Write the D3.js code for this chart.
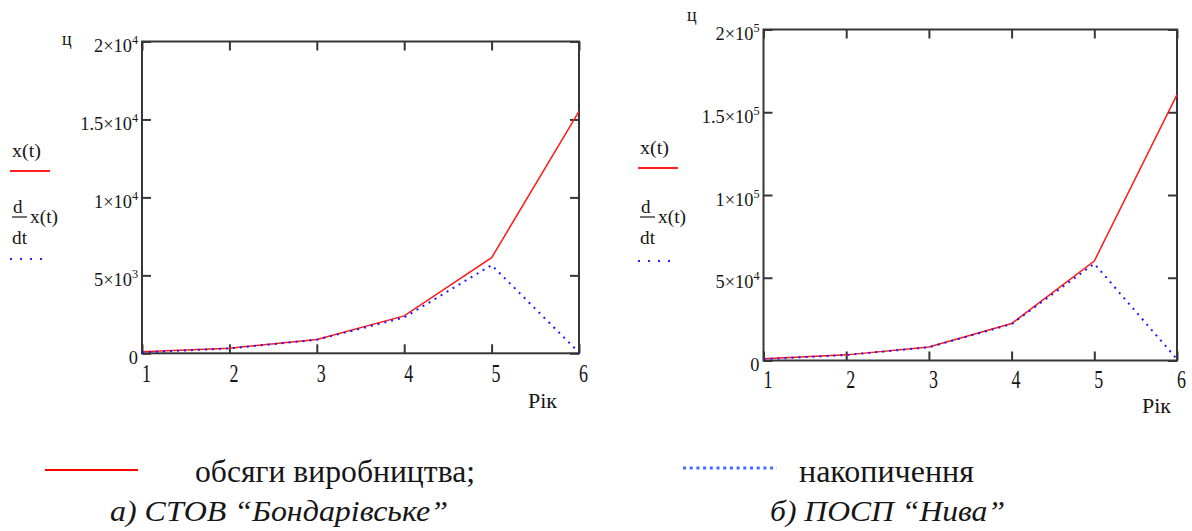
<!DOCTYPE html>
<html>
<head>
<meta charset="utf-8">
<script src="https://cdn.jsdelivr.net/npm/d3@7"></script>
<style>
  body { margin: 0; background: #fff; }
  svg { display: block; }
  svg text { font-family: "Liberation Serif", "Times New Roman", "DejaVu Serif", serif; }
</style>
</head>
<body>
<svg width="1192" height="531"></svg>
<script>
// years on the x axis
const years = [1, 2, 3, 4, 5, 6];

// СТОВ "Бондарівське": x(t) and d/dt x(t)
const bondOutput = [100, 320, 890, 2400, 6130, 15520];
const bondAccum = [60, 310, 870, 2300, 5660, 50];
const bondTicks = [0, 5000, 10000, 15000, 20000];

// ПОСП "Нива"
const nivaOutput = [1000, 3400, 8200, 22300, 60100, 160700];
const nivaAccum = [800, 3300, 8000, 22000, 58500, 800];
const nivaTicks = [0, 50000, 100000, 150000, 200000];

const legendLabels = ["обсяги виробництва;", "накопичення"];
const captions = ["а) СТОВ “Бондарівське”", "б) ПОСП “Нива”"];

const svg = d3.select("svg");
const axisColor = "#363636";
const textColor = "#161616";

// 15000 -> ["1.5×10", "4"]
const sci = v => {
  if (v === 0) return ["0", ""];
  const e = Math.floor(Math.log10(v));
  const m = v / Math.pow(10, e);
  return [d3.format("~g")(m) + "×10", String(e)];
};

const drawPanel = p => {
  const xScale = d3.scaleLinear().domain([1, 6]).range([p.left, p.right]);
  const yScale = d3.scaleLinear().domain([0, p.yMax]).range([p.bottom, p.top]);
  const g = svg.append("g");

  const styleTicks = sel => {
    sel.attr("font-family", null);
    sel.select(".domain").remove();
    sel.selectAll(".tick line").attr("stroke", axisColor).attr("stroke-width", 2);
  };

  // bottom axis with labels
  const xAxisG = g.append("g")
    .attr("transform", `translate(0,${p.bottom})`)
    .call(d3.axisBottom(xScale).tickValues(years).tickSize(-9).tickSizeOuter(0).tickFormat(d3.format("d")));
  styleTicks(xAxisG);
  xAxisG.selectAll(".tick text")
    .attr("font-size", 25)
    .attr("fill", textColor)
    .attr("transform", "scale(0.72,1)")
    .attr("x", 4 / 0.72)
    .attr("y", p.xLabelY)
    .attr("dy", null);

  // top axis, ticks only
  const xTopG = g.append("g")
    .attr("transform", `translate(0,${p.top})`)
    .call(d3.axisTop(xScale).tickValues(years).tickSize(-9).tickSizeOuter(0).tickFormat(""));
  styleTicks(xTopG);

  // left axis with mathcad-style labels
  const yAxisG = g.append("g")
    .attr("transform", `translate(${p.left},0)`)
    .call(d3.axisLeft(yScale).tickValues(p.ticks).tickSize(-9).tickSizeOuter(0));
  styleTicks(yAxisG);
  yAxisG.selectAll(".tick text")
    .attr("font-size", 18)
    .attr("fill", textColor)
    .attr("text-anchor", "end")
    .attr("transform", "scale(1.02,1)")
    .attr("x", -4 / 1.02)
    .attr("y", 10)
    .attr("dy", null)
    .each(function (d) {
      const t = d3.select(this);
      const [m, e] = sci(d);
      t.text(null);
      t.append("tspan").text(m);
      if (e) t.append("tspan").attr("dy", -8).attr("font-size", 12).text(e);
    });

  // right axis, ticks only
  const yRightG = g.append("g")
    .attr("transform", `translate(${p.right},0)`)
    .call(d3.axisRight(yScale).tickValues(p.ticks).tickSize(-9).tickSizeOuter(0).tickFormat(""));
  styleTicks(yRightG);

  // frame
  g.append("rect")
    .attr("x", p.left).attr("y", p.top)
    .attr("width", p.right - p.left).attr("height", p.bottom - p.top)
    .attr("fill", "none").attr("stroke", axisColor).attr("stroke-width", 2);

  const line = d3.line()
    .x((d, i) => xScale(years[i]))
    .y(d => yScale(d));

  g.append("path")
    .attr("d", line(p.red))
    .attr("fill", "none").attr("stroke", "#ff1a1a").attr("stroke-width", 1.5);

  g.append("path")
    .attr("d", line(p.blue))
    .attr("fill", "none").attr("stroke", "#1a1aff").attr("stroke-width", 2)
    .attr("stroke-dasharray", "2,5");

  // axis captions
  g.append("text").text("ц")
    .attr("x", p.unitX).attr("y", p.unitY)
    .attr("font-size", 18).attr("fill", textColor);
  g.append("text").text("Рік")
    .attr("x", p.rikX).attr("y", p.rikY)
    .attr("font-size", 22).attr("textLength", 29).attr("lengthAdjust", "spacingAndGlyphs")
    .attr("fill", textColor);

  // left legend: x(t) and d/dt x(t)
  const lx = p.legX;
  g.append("text").text("x(t)")
    .attr("x", lx + 2).attr("y", p.xtY)
    .attr("font-size", 19).attr("textLength", 29).attr("lengthAdjust", "spacingAndGlyphs")
    .attr("fill", textColor);
  g.append("line")
    .attr("x1", lx).attr("x2", lx + 40)
    .attr("y1", p.xtY + 14).attr("y2", p.xtY + 14)
    .attr("stroke", "#ff2020").attr("stroke-width", 2);

  g.append("text").text("d")
    .attr("x", lx + 3).attr("y", 213)
    .attr("font-size", 19).attr("fill", textColor);
  g.append("line")
    .attr("x1", lx + 2).attr("x2", lx + 17)
    .attr("y1", 217).attr("y2", 217)
    .attr("stroke", textColor).attr("stroke-width", 1.2);
  g.append("text").text("dt")
    .attr("x", lx + 2).attr("y", 244)
    .attr("font-size", 19).attr("textLength", 15).attr("lengthAdjust", "spacingAndGlyphs")
    .attr("fill", textColor);
  g.append("text").text("x(t)")
    .attr("x", lx + 20).attr("y", 223)
    .attr("font-size", 19).attr("textLength", 28).attr("lengthAdjust", "spacingAndGlyphs")
    .attr("fill", textColor);
  g.append("line")
    .attr("x1", lx).attr("x2", lx + 34)
    .attr("y1", p.dotY).attr("y2", p.dotY)
    .attr("stroke", "#2020ff").attr("stroke-width", 2)
    .attr("stroke-dasharray", "2,8");
};

drawPanel({
  left: 142, right: 579, top: 41.5, bottom: 353.3,
  yMax: 20000, ticks: bondTicks, red: bondOutput, blue: bondAccum,
  xLabelY: 29, unitX: 62, unitY: 45, rikX: 528, rikY: 408,
  legX: 10, xtY: 157, dotY: 259
});

drawPanel({
  left: 763.5, right: 1177, top: 29.5, bottom: 360.5,
  yMax: 200000, ticks: nivaTicks, red: nivaOutput, blue: nivaAccum,
  xLabelY: 28, unitX: 687, unitY: 21, rikX: 1142, rikY: 413,
  legX: 638, xtY: 154, dotY: 261
});

// bottom legend
const foot = svg.append("g").attr("fill", textColor);
foot.append("line")
  .attr("x1", 45).attr("x2", 138).attr("y1", 470).attr("y2", 470)
  .attr("stroke", "#ff0000").attr("stroke-width", 2);
foot.append("text").text(legendLabels[0])
  .attr("x", 195).attr("y", 482)
  .attr("font-size", 31).attr("textLength", 280).attr("lengthAdjust", "spacingAndGlyphs");
foot.append("line")
  .attr("x1", 683).attr("x2", 777).attr("y1", 468).attr("y2", 468)
  .attr("stroke", "#3d6bff").attr("stroke-width", 3)
  .attr("stroke-dasharray", "3,3.7");
foot.append("text").text(legendLabels[1])
  .attr("x", 799).attr("y", 482)
  .attr("font-size", 31).attr("textLength", 175).attr("lengthAdjust", "spacingAndGlyphs");

foot.append("text").text(captions[0])
  .attr("x", 110).attr("y", 521)
  .attr("font-size", 30).attr("font-style", "italic")
  .attr("textLength", 338).attr("lengthAdjust", "spacingAndGlyphs");
foot.append("text").text(captions[1])
  .attr("x", 770).attr("y", 521)
  .attr("font-size", 30).attr("font-style", "italic")
  .attr("textLength", 235).attr("lengthAdjust", "spacingAndGlyphs");
</script>
</body>
</html>
